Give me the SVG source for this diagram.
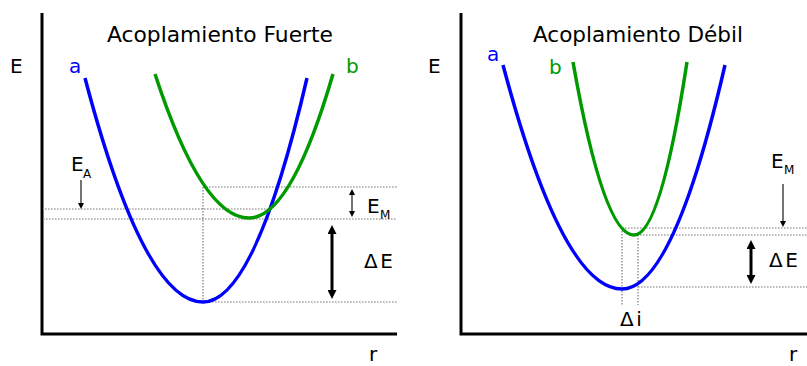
<svg xmlns="http://www.w3.org/2000/svg" width="807" height="366" viewBox="0 0 807 366">
<style>
text{font-family:"DejaVu Sans","Verdana",sans-serif;fill:#000}
.t{font-size:21px}
.l{font-size:20px}
.s{font-size:12px}
.axis{stroke:#000;stroke-width:3;fill:none}
.dot{stroke:#7a7a7a;stroke-width:1.2;stroke-dasharray:1.6 1.4;fill:none}
.ca{stroke:#0000ff;stroke-width:3.5;fill:none}
.cb{stroke:#009a00;stroke-width:3.5;fill:none}
.thin{stroke:#000;stroke-width:1.1}
.thick{stroke:#000;stroke-width:3}
</style>
<defs>
<marker id="hs" viewBox="0 0 10 10" refX="0" refY="5" markerUnits="userSpaceOnUse" markerWidth="8" markerHeight="6" orient="auto-start-reverse"><path d="M0,0 L10,5 L0,10 z" fill="#000"/></marker>
<marker id="hb" viewBox="0 0 10 10" refX="0" refY="5" markerUnits="userSpaceOnUse" markerWidth="12" markerHeight="9" orient="auto-start-reverse"><path d="M0,0 L10,5 L0,10 z" fill="#000"/></marker>
</defs>

<g id="panel-fuerte">
  <g id="axes-left">
    <path class="axis" d="M42,13 V334 H397"/>
    <text class="l" x="10" y="73">E</text>
    <text class="l" x="369" y="361">r</text>
  </g>
  <g id="title-left"><text class="t" x="107" y="42" textLength="226" lengthAdjust="spacingAndGlyphs">Acoplamiento Fuerte</text></g>
  <g id="guides-left">
    <path class="dot" d="M203,187 H397 M45,209 H270 M43,219 H397 M203,302 H397 M203,187 V302"/>
  </g>
  <g id="curve-a-left">
    <path class="ca" d="M85,78 Q144,302 203,302 Q255,302 307,78"/>
    <text class="l" x="69" y="73" style="fill:#0000ff">a</text>
  </g>
  <g id="curve-b-left">
    <path class="cb" d="M155,74 Q202,218 249,218 Q291,218 333,74"/>
    <text class="l" x="346" y="73" style="fill:#009a00">b</text>
  </g>
  <g id="label-EA">
    <text class="l" x="71" y="171">E</text><text class="s" x="83" y="178">A</text>
  </g>
  <g id="label-EM-left">
    <text class="l" x="367" y="213">E</text><text class="s" x="380" y="219">M</text>
  </g>
  <g id="label-dE-left"><text class="l" x="364" y="268" letter-spacing="2.5">ΔE</text></g>
</g>

<g id="panel-debil">
  <g id="axes-right">
    <path class="axis" d="M461,13 V334 H807"/>
    <text class="l" x="428" y="73">E</text>
    <text class="l" x="789" y="361">r</text>
  </g>
  <g id="title-right"><text class="t" x="533" y="42" textLength="210" lengthAdjust="spacingAndGlyphs">Acoplamiento Débil</text></g>
  <g id="guides-right">
    <path class="dot" d="M622,228 H807 M634,235 H807 M638,287 H807 M622,228 V305 M638,235 V305"/>
  </g>
  <g id="curve-a-right">
    <path class="ca" d="M503,65 Q562.5,289 622,289 Q673.5,289 725,65"/>
    <text class="l" x="487" y="61" style="fill:#0000ff">a</text>
  </g>
  <g id="curve-b-right">
    <path class="cb" d="M573,62 Q603.5,235 634,235 Q660.5,235 687,62"/>
    <text class="l" x="549" y="74" style="fill:#009a00">b</text>
  </g>
  <g id="label-EM-right">
    <text class="l" x="771" y="168">E</text><text class="s" x="784" y="174">M</text>
  </g>
  <g id="label-dE-right"><text class="l" x="769" y="267" letter-spacing="2.5">ΔE</text></g>
  <g id="label-di"><text class="l" x="620" y="326" letter-spacing="2.5">Δi</text></g>
</g>

<g id="connectors">
  <line class="thin" x1="81" y1="180" x2="81" y2="203" marker-end="url(#hs)"/>
  <line class="thin" x1="352" y1="195" x2="352" y2="211" marker-start="url(#hs)" marker-end="url(#hs)"/>
  <line class="thick" x1="332" y1="234" x2="332" y2="290" marker-start="url(#hb)" marker-end="url(#hb)"/>
  <line class="thin" x1="783" y1="184" x2="783" y2="221" marker-end="url(#hs)"/>
  <line class="thick" x1="751" y1="249" x2="751" y2="275" marker-start="url(#hb)" marker-end="url(#hb)"/>
</g>
</svg>
